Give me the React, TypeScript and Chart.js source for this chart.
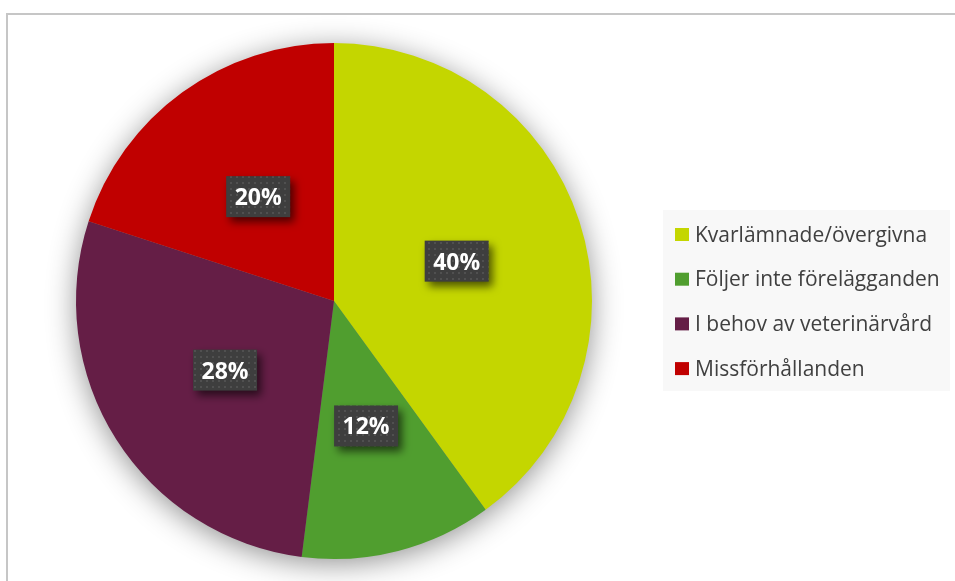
import React, { useEffect, useRef } from "react";
import { Chart, registerables } from "chart.js";

Chart.register(...registerables);

const categories = [
  "Kvarlämnade/övergivna",
  "Följer inte förelägganden",
  "I behov av veterinärvård",
  "Missförhållanden",
];
const shares = [40, 12, 28, 20];
const sliceColors = ["#C4D600", "#509E2F", "#651E46", "#C00000"];

const W = 955;
const H = 581;

function makePattern(ctx: CanvasRenderingContext2D) {
  const c = document.createElement("canvas");
  c.width = 6;
  c.height = 6;
  const p = c.getContext("2d")!;
  p.fillStyle = "#3e3e3e";
  p.fillRect(0, 0, 6, 6);
  p.fillStyle = "#505050";
  p.fillRect(2, 2, 2, 2);
  return ctx.createPattern(c, "repeat");
}

const framePlugin = {
  id: "frame",
  beforeDraw(chart: any) {
    const ctx = chart.ctx;
    ctx.save();
    ctx.fillStyle = "#ffffff";
    ctx.fillRect(0, 0, W, H);
    ctx.strokeStyle = "#c6c6c6";
    ctx.lineWidth = 2;
    ctx.beginPath();
    ctx.moveTo(7, H + 5);
    ctx.lineTo(7, 14);
    ctx.lineTo(W + 5, 14);
    ctx.stroke();
    ctx.restore();
  },
};

const shadowPlugin = {
  id: "pieShadow",
  beforeDatasetsDraw(chart: any) {
    const meta = chart.getDatasetMeta(0);
    const arc = meta.data[0];
    if (!arc) return;
    const ctx = chart.ctx;
    ctx.save();
    ctx.shadowColor = "rgba(0,0,0,0.45)";
    ctx.shadowBlur = 30;
    ctx.shadowOffsetX = 0;
    ctx.shadowOffsetY = 5;
    ctx.fillStyle = "#888888";
    ctx.beginPath();
    ctx.arc(arc.x, arc.y, arc.outerRadius - 1, 0, Math.PI * 2);
    ctx.fill();
    ctx.restore();
  },
};

const labelPlugin = {
  id: "boxLabels",
  afterDatasetsDraw(chart: any) {
    const ctx = chart.ctx;
    const meta = chart.getDatasetMeta(0);
    const pattern = makePattern(ctx);
    meta.data.forEach((arc: any, i: number) => {
      const pos = arc.tooltipPosition();
      const bw = 64;
      const bh = 41;
      const x = pos.x - bw / 2;
      const y = pos.y - bh / 2;
      ctx.save();
      ctx.shadowColor = "rgba(0,0,0,0.6)";
      ctx.shadowBlur = 8;
      ctx.shadowOffsetX = 4;
      ctx.shadowOffsetY = 5;
      ctx.fillStyle = pattern || "#3e3e3e";
      ctx.fillRect(x, y, bw, bh);
      ctx.restore();
      ctx.save();
      ctx.fillStyle = "#ffffff";
      ctx.font = "bold 23px 'Open Sans'";
      ctx.textAlign = "center";
      ctx.textBaseline = "alphabetic";
      ctx.fillText(shares[i] + "%", pos.x, pos.y + 8.5);
      ctx.restore();
    });
  },
};

const legendPlugin = {
  id: "boxLegend",
  afterDraw(chart: any) {
    const ctx = chart.ctx;
    ctx.save();
    ctx.fillStyle = "#f8f8f8";
    ctx.fillRect(663, 210, 287, 181);
    const top0 = 228;
    const step = 44.7;
    categories.forEach((label, i) => {
      const ty = top0 + i * step;
      ctx.fillStyle = sliceColors[i];
      ctx.fillRect(675, ty, 14, 13);
      ctx.fillStyle = "#404040";
      ctx.font = "21px 'Open Sans'";
      ctx.textAlign = "left";
      ctx.textBaseline = "alphabetic";
      ctx.fillText(label, 695, ty + 13.5);
    });
    ctx.restore();
  },
};

export default function App() {
  const ref = useRef<HTMLCanvasElement>(null);
  useEffect(() => {
    if (!ref.current) return;
    const chart = new Chart(ref.current, {
      type: "pie",
      data: {
        labels: categories,
        datasets: [
          {
            data: shares,
            backgroundColor: sliceColors,
            borderWidth: 0,
            hoverOffset: 0,
          },
        ],
      },
      options: {
        responsive: false,
        animation: false,
        events: [],
        layout: { padding: { left: 76, right: 363, top: 43, bottom: 22 } },
        plugins: {
          legend: { display: false },
          tooltip: { enabled: false },
        },
      },
      plugins: [framePlugin, shadowPlugin, labelPlugin, legendPlugin],
    });
    return () => chart.destroy();
  }, []);
  return (
    <div style={{ position: "fixed", left: 0, top: 0, width: W, height: H }}>
      <canvas ref={ref} width={W} height={H} style={{ width: W, height: H }} />
    </div>
  );
}
